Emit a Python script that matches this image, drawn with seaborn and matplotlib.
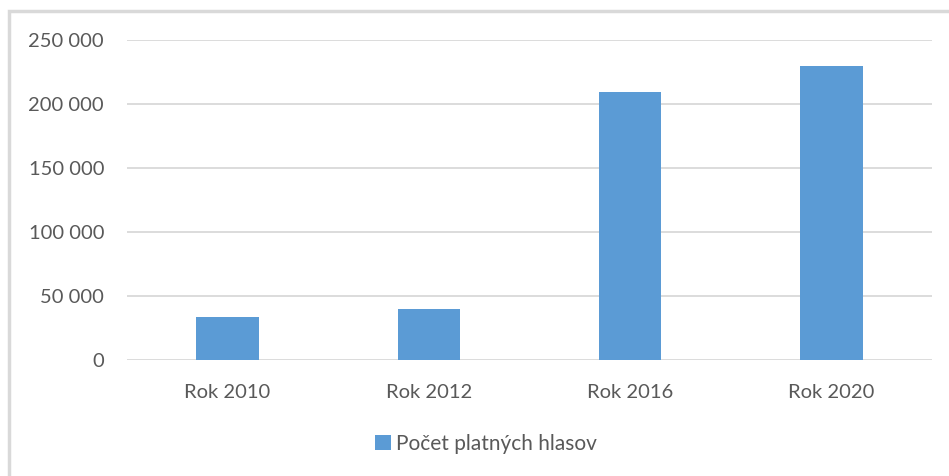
import pandas as pd
import seaborn as sns
import matplotlib.pyplot as plt
from matplotlib.patches import Rectangle
from matplotlib.ticker import FuncFormatter

# data
years = ['Rok 2010', 'Rok 2012', 'Rok 2016', 'Rok 2020']
votes = [33700, 39800, 209300, 229500]
series_name = 'Počet platných hlasov'
y_ticks = [0, 50000, 100000, 150000, 200000, 250000]

df = pd.DataFrame({'rok': years, 'hlasy': votes, 'serie': series_name})

sns.set_style('white')
plt.rcParams['font.family'] = ['Lato', 'DejaVu Sans']

W, H = 949, 476
fig = plt.figure(figsize=(W / 100, H / 100), dpi=100)

# chart frame (cut by the image edges)
fig.patches.append(Rectangle((8.5 / W, -0.1), 1.2, (H - 11) / H + 0.1,
                             transform=fig.transFigure, fill=False,
                             edgecolor='#D9D9D9', linewidth=2.5))

ax = fig.add_axes([127 / W, 1 - 360 / H, (932 - 127) / W, (360 - 40) / H])
sns.barplot(data=df, x='rok', y='hlasy', hue='serie', palette=['#5B9BD5'],
            saturation=1, width=0.31, linewidth=0, ax=ax, zorder=3)

ax.set_ylim(0, 250000)
ax.set_xlim(-0.5, 3.5)
ax.set_yticks(y_ticks)
ax.yaxis.set_major_formatter(FuncFormatter(lambda v, p: f'{int(v):,}'.replace(',', ' ')))
ax.grid(axis='y', color='#D9D9D9', linewidth=1.3, zorder=0)
for s in ax.spines.values():
    s.set_visible(False)
ax.tick_params(axis='both', length=0, labelcolor='#595959')
ax.tick_params(axis='y', pad=16.5, labelsize=14.5)
ax.tick_params(axis='x', pad=17, labelsize=14.5)
ax.set(xlabel='', ylabel='')

ax.legend(loc='center', bbox_to_anchor=(486 / W, 1 - 444 / H),
          bbox_transform=fig.transFigure, frameon=False, fontsize=15,
          handlelength=0.75, handleheight=0.75, handletextpad=0.25,
          labelcolor='#595959')

fig.savefig('out.png', dpi=100)
